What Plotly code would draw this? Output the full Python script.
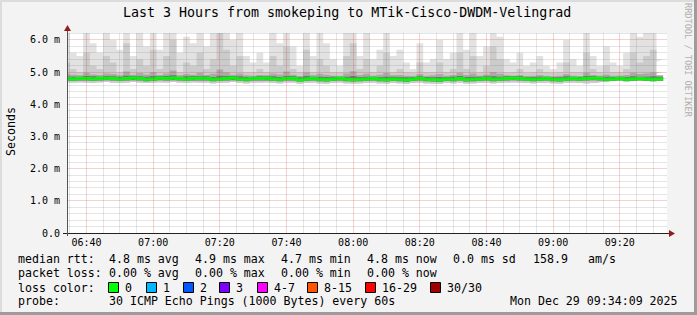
import math
import plotly.graph_objects as go
import pandas as pd

# ---------------- data (ms) ----------------
median = [4.80,4.79,4.80,4.80,4.79,4.80,4.81,4.80,4.79,4.80,
          4.82,4.80,4.78,4.79,4.81,4.80,4.82,4.80,4.79,4.81,
          4.80,4.80,4.78,4.79,4.80,4.82,4.79,4.78,4.80,4.80,
          4.81,4.79,4.78,4.80,4.80,4.76,4.79,4.80,4.78,4.77,
          4.79,4.80,4.78,4.77,4.78,4.79,4.80,4.78,4.77,4.79,
          4.78,4.76,4.79,4.80,4.78,4.77,4.76,4.79,4.78,4.80,
          4.77,4.78,4.79,4.80,4.78,4.79,4.80,4.81,4.80,4.79,
          4.78,4.79,4.80,4.78,4.77,4.79,4.80,4.79,4.80,4.81,
          4.80,4.78,4.79,4.80,4.78,4.79,4.80,4.79,4.78,4.79]
smoke_max = [6.3,5.6,5.5,6.3,5.9,5.6,6.3,6.0,5.7,6.3,
             5.5,6.3,5.8,6.3,5.7,6.3,6.3,5.6,6.1,5.9,
             6.3,5.8,6.3,6.3,6.3,6.0,6.3,5.5,5.3,5.6,
             5.3,6.3,5.9,6.3,5.8,5.2,6.3,5.5,6.3,5.9,
             5.4,5.2,6.3,6.3,5.5,6.3,5.4,5.7,6.3,5.5,
             5.7,5.3,5.1,5.9,5.3,5.4,6.0,5.4,5.6,6.3,
             5.7,6.3,5.5,5.8,6.3,6.1,5.4,5.3,5.6,5.2,
             5.3,5.5,5.2,5.1,5.3,6.0,5.4,5.2,6.3,5.5,
             5.2,5.8,5.3,5.2,5.6,6.3,6.1,6.3,6.3,5.4]
smoke_p90 = [5.3,5.1,5.0,5.6,5.2,5.1,5.5,5.3,5.0,5.9,
             5.1,5.4,5.2,5.7,5.1,5.5,6.0,5.0,5.3,5.2,
             5.6,5.1,5.4,6.3,5.7,5.2,5.5,5.0,5.0,5.1,
             5.0,5.5,5.2,5.8,5.1,5.0,5.7,5.0,5.4,5.2,
             5.0,5.0,5.5,5.9,5.1,5.4,5.0,5.2,5.6,5.0,
             5.1,5.0,4.98,5.3,5.0,5.0,5.3,5.0,5.1,5.6,
             5.1,5.5,5.0,5.2,5.8,5.4,5.0,5.0,5.1,4.98,
             5.0,5.1,5.0,4.98,5.0,5.3,5.0,5.0,5.6,5.1,
             5.0,5.2,5.0,5.0,5.1,5.6,5.3,5.5,5.7,5.0]
smoke_p75 = [4.95,4.92,4.90,4.98,4.93,4.91,4.96,4.94,4.90,5.02,
             4.92,4.97,4.93,5.00,4.91,4.96,5.05,4.90,4.94,4.92,
             4.98,4.91,4.95,5.08,4.99,4.92,4.96,4.90,4.89,4.91,
             4.90,4.96,4.93,5.02,4.92,4.88,4.99,4.90,4.95,4.92,
             4.89,4.88,4.96,5.03,4.91,4.95,4.89,4.92,4.97,4.90,
             4.91,4.89,4.88,4.94,4.89,4.90,4.94,4.89,4.91,4.98,
             4.91,4.96,4.89,4.93,5.00,4.95,4.90,4.89,4.91,4.88,
             4.89,4.91,4.88,4.87,4.89,4.94,4.89,4.88,4.98,4.91,
             4.89,4.93,4.89,4.89,4.91,4.98,4.94,4.96,4.99,4.90]
smoke_p60 = [4.87,4.86,4.86,4.88,4.87,4.86,4.88,4.87,4.86,4.89,
             4.88,4.87,4.86,4.88,4.87,4.88,4.90,4.86,4.87,4.88,
             4.87,4.87,4.85,4.89,4.88,4.88,4.87,4.85,4.86,4.87,
             4.87,4.87,4.85,4.88,4.87,4.84,4.88,4.86,4.86,4.85,
             4.86,4.86,4.86,4.88,4.85,4.86,4.86,4.85,4.86,4.86,
             4.85,4.84,4.85,4.87,4.85,4.84,4.85,4.85,4.86,4.88,
             4.85,4.86,4.86,4.87,4.87,4.86,4.87,4.87,4.87,4.85,
             4.85,4.86,4.86,4.84,4.84,4.87,4.86,4.85,4.88,4.87,
             4.86,4.86,4.85,4.86,4.85,4.87,4.86,4.86,4.87,4.86]
smoke_p25 = [4.74,4.73,4.74,4.74,4.73,4.74,4.75,4.74,4.73,4.74,
             4.75,4.74,4.72,4.73,4.75,4.74,4.75,4.74,4.73,4.74,
             4.74,4.74,4.72,4.73,4.74,4.75,4.73,4.72,4.74,4.74,
             4.74,4.73,4.72,4.74,4.74,4.71,4.73,4.74,4.72,4.71,
             4.73,4.74,4.72,4.71,4.72,4.73,4.74,4.72,4.71,4.73,
             4.72,4.70,4.73,4.74,4.72,4.71,4.70,4.73,4.72,4.74,
             4.71,4.72,4.73,4.74,4.72,4.73,4.74,4.75,4.74,4.73,
             4.72,4.73,4.74,4.72,4.71,4.73,4.74,4.73,4.74,4.75,
             4.74,4.72,4.73,4.74,4.72,4.73,4.74,4.73,4.72,4.73]
smoke_min = [4.68,4.67,4.68,4.67,4.66,4.68,4.69,4.67,4.66,4.67,
             4.69,4.67,4.66,4.66,4.68,4.67,4.69,4.67,4.66,4.68,
             4.67,4.67,4.65,4.66,4.67,4.69,4.66,4.65,4.67,4.67,
             4.68,4.66,4.65,4.67,4.67,4.64,4.66,4.67,4.65,4.64,
             4.66,4.67,4.65,4.64,4.65,4.66,4.67,4.65,4.64,4.66,
             4.65,4.63,4.66,4.67,4.65,4.64,4.63,4.66,4.65,4.67,
             4.64,4.65,4.66,4.67,4.65,4.66,4.67,4.68,4.67,4.66,
             4.65,4.66,4.67,4.65,4.64,4.66,4.67,4.66,4.65,4.66]

y_ticks = [0, 1, 2, 3, 4, 5, 6]
y_ticktext = ["0.0", "1.0 m", "2.0 m", "3.0 m", "4.0 m", "5.0 m", "6.0 m"]
x_ticktext = ["06:40", "07:00", "07:20", "07:40", "08:00", "08:20", "08:40", "09:00", "09:20"]

loss_labels = ["0", "1", "2", "3", "4-7", "8-15", "16-29", "30/30"]
loss_colors = ["#00ff00", "#00b8ff", "#0059ff", "#7e00ff", "#ff00ff", "#ff5500", "#ff0000", "#a10000"]

# ---------------- geometry ----------------
W, H = 697, 315
L, R, T, B = 67, 667, 33, 233
PW, PH = R - L, B - T
Y_MAX = 6.217
FONT = "DejaVu Sans Mono"

def px(x):
    return (x - L) / PW

def py(y):
    return (B - y) / PH

start = pd.Timestamp("2025-12-29 06:33:00")
times = [start + pd.Timedelta(minutes=2 * i) for i in range(len(median) + 1)]
x_range = [pd.Timestamp("2025-12-29 06:34:09"), pd.Timestamp("2025-12-29 09:34:09")]
x_tickvals = [pd.Timestamp("2025-12-29 " + t) for t in x_ticktext]
span = (x_range[1] - x_range[0]).total_seconds()

def ext(a):
    return list(a) + [a[-1]]

fig = go.Figure()

layers = [
    (smoke_min, smoke_max, "#e2e2e2"),
    (smoke_min, smoke_p90, "#cbcbcb"),
    (smoke_p25, smoke_p75, "#a9a9a9"),
    (smoke_p25, smoke_p60, "#757575"),
]
for lo, hi, col in layers:
    fig.add_trace(go.Scatter(x=times, y=ext(lo), mode="lines", line=dict(width=0, shape="hv"),
                             hoverinfo="skip", showlegend=False))
    fig.add_trace(go.Scatter(x=times, y=ext(hi), mode="lines", line=dict(width=0, shape="hv"),
                             fill="tonexty", fillcolor=col, hoverinfo="skip", showlegend=False))

fig.add_trace(go.Scatter(x=times, y=ext(median), mode="lines",
                         line=dict(color="#00ff00", width=3, shape="hv"), showlegend=False))

shapes = []
MAJ = "rgba(225,60,60,0.24)"
MIN = "rgba(110,110,110,0.18)"
# grid, drawn above the smoke like rrdtool
t = pd.Timestamp("2025-12-29 06:35:00")
while t <= x_range[1]:
    xp = math.floor(L + (t - x_range[0]).total_seconds() / span * PW) + 0.5
    shapes.append(dict(type="line", xref="paper", yref="paper", x0=px(xp), x1=px(xp), y0=0, y1=1,
                       layer="above", line=dict(color=MAJ if t.minute % 20 == 0 else MIN, width=1)))
    t += pd.Timedelta(minutes=5)
for k in range(1, 32):
    v = k * 0.2
    if v > Y_MAX:
        break
    yp = math.floor(B - v / Y_MAX * PH) + 0.5
    shapes.append(dict(type="line", xref="paper", yref="paper", x0=0, x1=1, y0=py(yp), y1=py(yp),
                       layer="above", line=dict(color=MAJ if k % 5 == 0 else MIN, width=1)))

# axis lines + arrows
AX = "#222222"
ARR = "#931c1c"
shapes.append(dict(type="line", xref="paper", yref="paper", x0=px(63), x1=px(670), y0=py(233.5), y1=py(233.5),
                   line=dict(color=AX, width=1), layer="above"))
shapes.append(dict(type="line", xref="paper", yref="paper", x0=px(67.5), x1=px(67.5), y0=py(236), y1=py(29),
                   line=dict(color="#555555", width=1), layer="above"))
shapes.append(dict(type="path", xref="paper", yref="paper", layer="above",
                   path=f"M {px(669)} {py(230)} L {px(675)} {py(233.5)} L {px(669)} {py(237)} Z",
                   fillcolor=ARR, line=dict(width=0)))
shapes.append(dict(type="path", xref="paper", yref="paper", layer="above",
                   path=f"M {px(64)} {py(31)} L {px(67.5)} {py(25)} L {px(71)} {py(31)} Z",
                   fillcolor=ARR, line=dict(width=0)))

# outer border
shapes.append(dict(type="rect", xref="paper", yref="paper", x0=px(0), x1=px(697), y0=py(0), y1=py(2),
                   fillcolor="#dcdcdc", line=dict(width=0), layer="below"))
shapes.append(dict(type="rect", xref="paper", yref="paper", x0=px(0), x1=px(2), y0=py(0), y1=py(315),
                   fillcolor="#dcdcdc", line=dict(width=0), layer="below"))
shapes.append(dict(type="rect", xref="paper", yref="paper", x0=px(0), x1=px(697), y0=py(312), y1=py(315),
                   fillcolor="#9c9c9c", line=dict(width=0), layer="below"))
shapes.append(dict(type="rect", xref="paper", yref="paper", x0=px(694), x1=px(697), y0=py(0), y1=py(315),
                   fillcolor="#9c9c9c", line=dict(width=0), layer="below"))

annotations = []

def text(x, y, s, size=11.6, anchor="left", color="#000000", angle=0):
    annotations.append(dict(x=px(x), y=py(y), xref="paper", yref="paper", text=s, showarrow=False,
                            xanchor=anchor, yanchor="middle", textangle=angle,
                            font=dict(family=FONT, size=size, color=color)))

text(347, 13, "Last 3 Hours from smokeping to MTik-Cisco-DWDM-Velingrad", size=13.3, anchor="center")
text(11, 132, "Seconds", size=11.6, anchor="center", angle=-90)
text(688, 60, "RRDTOOL / TOBI OETIKER", size=8.6, anchor="center", color="#b0b0b0", angle=90)

# legend lines
Y1, Y2, Y3, Y4 = 259, 273, 287.5, 301
text(16, Y1, "median rtt:")
for x, s in [(107, "4.8 ms avg"), (193, "4.9 ms max"), (279, "4.7 ms min"), (365, "4.8 ms now"),
             (451, "0.0 ms sd"), (531, "158.9"), (586, "am/s")]:
    text(x, Y1, s)
text(16, Y2, "packet loss:")
for x, s in [(107, "0.00 % avg"), (193, "0.00 % max"), (279, "0.00 % min"), (365, "0.00 % now")]:
    text(x, Y2, s)
text(16, Y3, "loss color:")
box_x = [108, 146, 183, 219, 257, 307, 365, 430]
for bx, lab, col in zip(box_x, loss_labels, loss_colors):
    shapes.append(dict(type="rect", xref="paper", yref="paper", x0=px(bx + 0.5), x1=px(bx + 10.5),
                       y0=py(Y3 + 5), y1=py(Y3 - 5), fillcolor=col, line=dict(color="#000000", width=1)))
    text(bx + 15, Y3, lab)
text(16, Y4, "probe:")
text(107, Y4, "30 ICMP Echo Pings (1000 Bytes) every 60s")
text(680, Y4, "Mon Dec 29 09:34:09 2025", anchor="right")

fig.update_layout(
    width=W, height=H, autosize=False,
    margin=dict(l=L, r=W - R, t=T, b=H - B, pad=0),
    paper_bgcolor="#f3f3f3", plot_bgcolor="#ffffff",
    shapes=shapes, annotations=annotations,
    showlegend=False,
    xaxis=dict(type="date", range=x_range, tickmode="array", tickvals=x_tickvals, ticktext=x_ticktext,
               showgrid=False, zeroline=False, showline=False, ticks="",
               tickfont=dict(family=FONT, size=10, color="#000000"), ticklabelstandoff=2,
               fixedrange=True),
    yaxis=dict(range=[0, Y_MAX], tickmode="array", tickvals=y_ticks, ticktext=y_ticktext,
               showgrid=False, zeroline=False, showline=False, ticks="",
               tickfont=dict(family=FONT, size=10, color="#000000"), ticklabelstandoff=6,
               fixedrange=True),
)

fig.write_html("out.html")
